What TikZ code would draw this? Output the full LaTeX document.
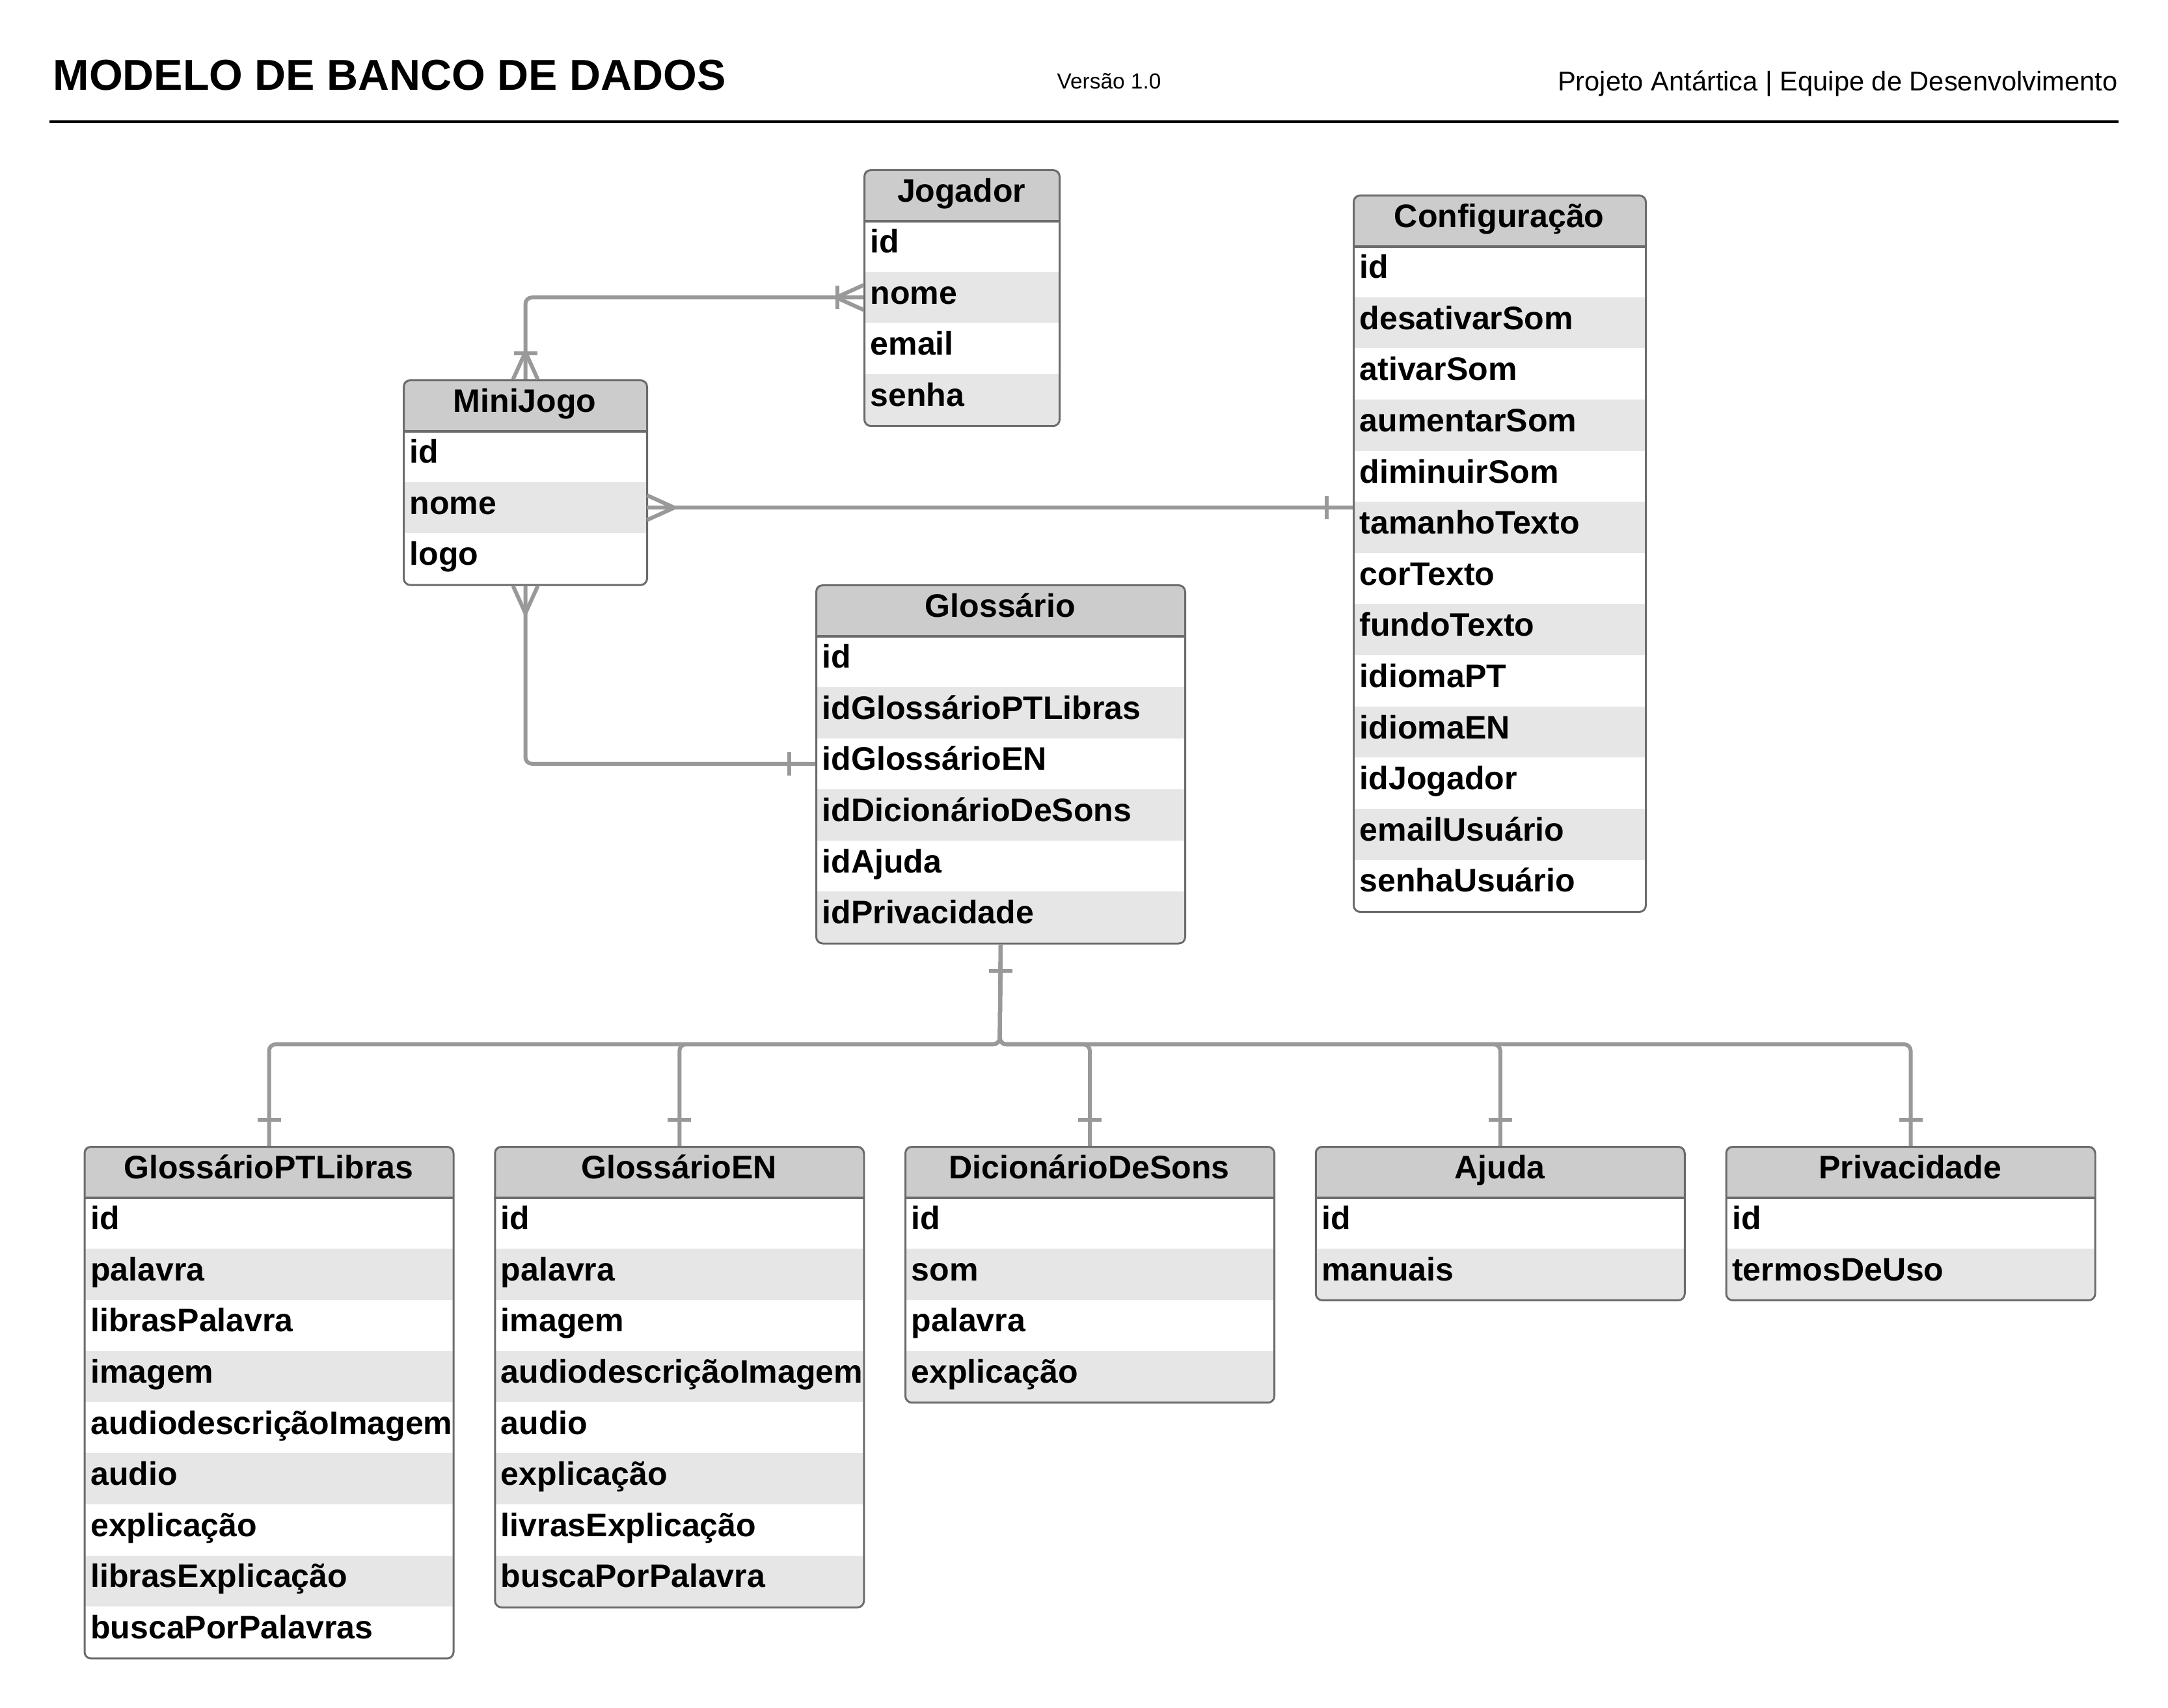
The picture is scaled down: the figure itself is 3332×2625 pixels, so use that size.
\documentclass[tikz,border=0pt]{standalone}
\usepackage{fontspec}
\setmainfont{Liberation Sans}
\definecolor{connc}{HTML}{999999}
\definecolor{borderc}{HTML}{6B6B6B}
\definecolor{hdrc}{HTML}{CCCCCC}
\definecolor{altrow}{HTML}{E6E6E6}
\hfuzz=40pt
\hbadness=10000
\newcommand{\fieldfont}{\bfseries\fontsize{14.23pt}{17pt}\selectfont}
\tikzset{
  hdrcell/.style={fill=hdrc, inner sep=0pt, minimum height=0.786cm, text height=0.3cm, text depth=0.1cm, font=\fieldfont},
  fieldcell/.style={inner xsep=0.1cm, inner ysep=0pt, minimum height=0.786cm, text height=0.3cm, text depth=0.1cm, align=left, font=\fieldfont},
  tabframe/.style={draw=borderc, line width=0.03cm, rounded corners=0.1cm, inner sep=0pt},
  sepline/.style={draw=borderc, line width=0.04cm},
  conn/.style={draw=connc, line width=0.06cm, rounded corners=0.1cm},
  markline/.style={draw=connc, line width=0.06cm},
  crowsfoot/.pic={\draw[markline] (-42,0) -- (0,-19) (-42,0) -- (0,19);},
  onebar/.pic={\draw[markline] (-40,-18) -- (-40,18);},
}
% #1 name, #2 left x, #3 top y, #4 width, #5 title, #6 number of fields, #7 fields
\newcommand{\ertab}[7]{%
  \pgfmathsetlengthmacro{\tabw}{#4*0.01cm}%
  \pgfmathsetlengthmacro{\txtw}{(#4-20)*0.01cm}%
  \pgfmathsetlengthmacro{\tabh}{(#6+1)*0.786cm}%
  \begin{scope}
    \clip[rounded corners=0.1cm] (#2,#3) rectangle ++(#4,{(#6+1)*78.6});
    \node[hdrcell, minimum width=\tabw, anchor=north west] (#1-0) at (#2,#3) {#5};
    \foreach \f [count=\i] in {#7} {%
      \ifodd\i\relax\def\rc{white}\else\def\rc{altrow}\fi
      \node[fieldcell, fill=\rc, minimum width=\tabw, text width=\txtw, anchor=north west] (#1-\i) at (#2,{#3+\i*78.6}) {\f};
    }
  \end{scope}
  \node[tabframe, minimum width=\tabw, minimum height=\tabh, anchor=north west] (#1) at (#2,#3) {};
  \draw[sepline] (#1-0.south west) -- (#1-0.south east);
}
\begin{document}
\begin{tikzpicture}[x=0.01cm,y=-0.01cm]
\useasboundingbox (0,0) rectangle (3332,2625);
\fill[white] (0,0) rectangle (3332,2625);

% header
\node[anchor=base west, inner sep=0pt, font=\bfseries\fontsize{18.9pt}{22pt}\selectfont] (title) at (81,139) {MODELO DE BANCO DE DADOS};
\node[anchor=base west, inner sep=0pt, font=\fontsize{9.5pt}{11pt}\selectfont] (version) at (1624,137) {Versão 1.0};
\node[anchor=base east, inner sep=0pt, font=\fontsize{11.84pt}{14pt}\selectfont] (project) at (3255,140) {Projeto Antártica | Equipe de Desenvolvimento};
\draw[line width=0.04cm] (76,187) -- (3256,187);

% tables
\ertab{jog}{1327}{260}{300}{Jogador}{4}{id,nome,email,senha}
\ertab{cfg}{2079}{299}{449}{Configuração}{13}{id,desativarSom,ativarSom,aumentarSom,diminuirSom,tamanhoTexto,corTexto,fundoTexto,idiomaPT,idiomaEN,idJogador,emailUsuário,senhaUsuário}
\ertab{mini}{619}{583}{374}{MiniJogo}{3}{id,nome,logo}
\ertab{glos}{1253}{898}{567}{Glossário}{6}{id,idGlossárioPTLibras,idGlossárioEN,idDicionárioDeSons,idAjuda,idPrivacidade}
\ertab{ptl}{128.5}{1761}{567}{GlossárioPTLibras}{9}{id,palavra,librasPalavra,imagem,audiodescriçãoImagem,audio,explicação,librasExplicação,buscaPorPalavras}
\ertab{gen}{759.25}{1761}{567}{GlossárioEN}{8}{id,palavra,imagem,audiodescriçãoImagem,audio,explicação,livrasExplicação,buscaPorPalavra}
\ertab{dic}{1390}{1761}{567}{DicionárioDeSons}{4}{id,som,palavra,explicação}
\ertab{aju}{2020.75}{1761}{567}{Ajuda}{2}{id,manuais}
\ertab{pri}{2651.5}{1761}{567}{Privacidade}{2}{id,termosDeUso}

% connectors
\draw[conn] (jog-2.west) -| (mini.north);
\pic at (jog-2.west) {crowsfoot};
\pic at (jog-2.west) {onebar};
\pic[rotate=-90] at (mini.north) {crowsfoot};
\pic[rotate=-90] at (mini.north) {onebar};

\draw[conn] (mini-2.east) -- (mini-2.east -| cfg.west);
\pic[rotate=180] at (mini-2.east) {crowsfoot};
\pic at (mini-2.east -| cfg.west) {onebar};

\draw[conn] (mini.south) |- (glos-3.west);
\pic[rotate=90] at (mini.south) {crowsfoot};
\pic at (glos-3.west) {onebar};

\coordinate (bus) at (1536.5,1605);
\pic[rotate=90] at (glos.south) {onebar};
\foreach \c in {ptl,gen,dic,aju,pri} {
  \draw[conn] (glos.south) -- (bus) -| (\c.north);
  \pic[rotate=-90] at (\c.north) {onebar};
}
\end{tikzpicture}
\end{document}
